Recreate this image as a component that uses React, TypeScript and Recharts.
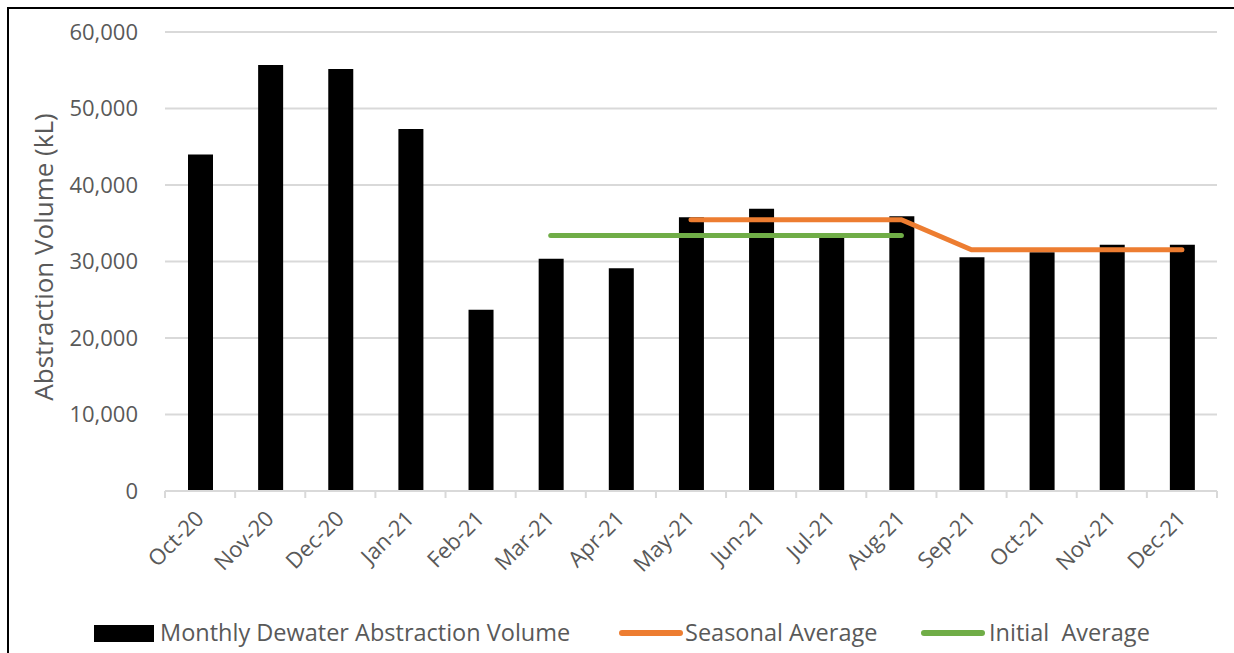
import React from 'react';
import { ComposedChart, Bar, Line, XAxis, YAxis, CartesianGrid } from 'recharts';

// Monthly dewater abstraction (kL)
const months = ['Oct-20', 'Nov-20', 'Dec-20', 'Jan-21', 'Feb-21', 'Mar-21', 'Apr-21', 'May-21', 'Jun-21', 'Jul-21', 'Aug-21', 'Sep-21', 'Oct-21', 'Nov-21', 'Dec-21'];
const monthlyVolume = [43980, 55680, 55150, 47330, 23700, 30360, 29130, 35800, 36900, 33200, 35900, 30570, 31200, 32200, 32200];
const seasonalAverage = [null, null, null, null, null, null, null, 35460, 35460, 35460, 35460, 31530, 31530, 31530, 31530];
const initialAverage = [null, null, null, null, null, 33400, 33400, 33400, 33400, 33400, 33400, null, null, null, null];
const yTicks = [0, 10000, 20000, 30000, 40000, 50000, 60000];

const FONT = '"Open Sans", sans-serif';
const GREY_TEXT = '#595959';
const GRID = '#d9d9d9';
const BLACK = '#000000';
const ORANGE = '#ED7D31';
const GREEN = '#70AD47';

const PLOT_W = 1052;
const BAND = PLOT_W / months.length;

const data = months.map((m, i) => ({
  month: m,
  monthly: monthlyVolume[i],
  seasonal: seasonalAverage[i],
  initial: initialAverage[i],
}));

const XTick = (props: any) => {
  const { x, y, payload, index } = props;
  const last = index === months.length - 1;
  return (
    <g>
      <line x1={x - BAND / 2} x2={x - BAND / 2} y1={y} y2={y + 7} stroke={GRID} strokeWidth={2} />
      {last && <line x1={x + BAND / 2} x2={x + BAND / 2} y1={y} y2={y + 7} stroke={GRID} strokeWidth={2} />}
      <text
        x={x + 5}
        y={y + 29}
        transform={`rotate(-45, ${x + 5}, ${y + 29})`}
        textAnchor="end"
        fontSize={22}
        fontFamily={FONT}
        fill={GREY_TEXT}
      >
        {payload.value}
      </text>
    </g>
  );
};

const legendItems = [
  { label: 'Monthly Dewater Abstraction Volume', color: BLACK, type: 'box', iconX: 94, textX: 160 },
  { label: 'Seasonal Average', color: ORANGE, type: 'line', iconX: 619, textX: 685 },
  { label: 'Initial\u00a0 Average', color: GREEN, type: 'line', iconX: 921, textX: 989 },
];

export default function App() {
  return (
    <div style={{ position: 'absolute', left: 0, top: 0, width: 1234, height: 653, overflow: 'hidden', background: '#fff' }}>
      <div style={{ position: 'absolute', left: 7, top: 7, width: 1300, height: 700, border: '2px solid #000' }} />
      <ComposedChart
        width={1234}
        height={653}
        data={data}
        margin={{ top: 32, right: 17, left: 20, bottom: 72 }}
        barCategoryGap={0}
        style={{ position: 'absolute', left: 0, top: 0 }}
      >
        <CartesianGrid vertical={false} stroke={GRID} strokeWidth={2} />
        <XAxis
          dataKey="month"
          height={90}
          interval={0}
          tickSize={0}
          tickMargin={0}
          tickLine={false}
          axisLine={{ stroke: GRID, strokeWidth: 2 }}
          tick={<XTick />}
        />
        <YAxis
          width={145}
          domain={[0, 60000]}
          ticks={yTicks}
          axisLine={false}
          tickLine={false}
          tickMargin={21}
          tickFormatter={(v: number) => v.toLocaleString('en-US')}
          tick={{ fontSize: 22, fontFamily: FONT, fill: GREY_TEXT }}
          label={{
            content: () => (
              <text
                transform="translate(43, 257) rotate(-90)"
                textAnchor="middle"
                dominantBaseline="central"
                fontSize={26}
                fontFamily={FONT}
                fill={GREY_TEXT}
              >
                Abstraction Volume (kL)
              </text>
            ),
          }}
        />
        <Bar dataKey="monthly" fill={BLACK} barSize={25} isAnimationActive={false} />
        <Line dataKey="seasonal" stroke={ORANGE} strokeWidth={5} strokeLinecap="round" dot={false} activeDot={false} type="linear" isAnimationActive={false} />
        <Line dataKey="initial" stroke={GREEN} strokeWidth={5} strokeLinecap="round" dot={false} activeDot={false} type="linear" isAnimationActive={false} />
      </ComposedChart>
      {legendItems.map((item) => (
        <React.Fragment key={item.label}>
          {item.type === 'box' ? (
            <div style={{ position: 'absolute', left: item.iconX, top: 625, width: 60, height: 17, background: item.color }} />
          ) : (
            <div style={{ position: 'absolute', left: item.iconX, top: 630, width: 64, height: 6, borderRadius: 3, background: item.color }} />
          )}
          <div
            style={{
              position: 'absolute',
              left: item.textX,
              top: 617,
              fontSize: 23.5,
              lineHeight: '30px',
              fontFamily: FONT,
              color: GREY_TEXT,
              whiteSpace: 'nowrap',
            }}
          >
            {item.label}
          </div>
        </React.Fragment>
      ))}
    </div>
  );
}
